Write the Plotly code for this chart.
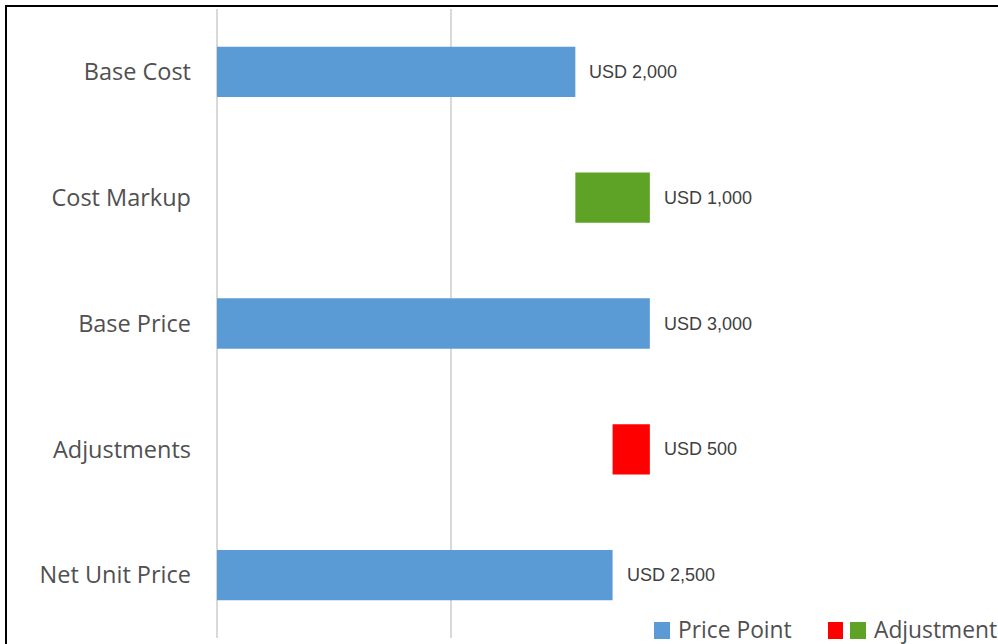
import plotly.graph_objects as go

# Price build-up, top to bottom
categories = ["Base Cost", "Cost Markup", "Base Price", "Adjustments", "Net Unit Price"]
kinds = ["point", "delta", "point", "delta", "point"]
# running price points and the signed adjustments between them
values = [2000, 1000, 3000, -500, 2500]
labels = ["USD 2,000", "USD 1,000", "USD 3,000", "USD 500", "USD 2,500"]

BLUE = "#5B9BD5"
GREEN = "#5EA226"
RED = "#FF0000"
GRID = "#D9D9D9"
TEXT = "#505050"
LABEL = "#404040"

# horizontal axis: the price bars grow from a floor left of zero
X_FLOOR = -2810
X_START = X_FLOOR - 40
X_END = X_FLOOR + 10483
GRID_VALUES = [X_FLOOR, 331]

W, H = 998, 644
M_L, M_R, M_T, M_B = 214, 0, 9, 6

fig = go.Figure()

# price points: bars from the floor up to each value
pt_y, pt_len, pt_base = [], [], []
# adjustments: floating bars starting at the previous running total
adj_y, adj_len, adj_base, adj_col = [], [], [], []
label_x = []
running = 0
for cat, kind, v in zip(categories, kinds, values):
    if kind == "point":
        pt_y.append(cat)
        pt_len.append(v - X_FLOOR)
        pt_base.append(X_FLOOR)
        running = v
        label_x.append(v)
    else:
        adj_y.append(cat)
        adj_base.append(running)
        adj_len.append(v)
        adj_col.append(GREEN if v >= 0 else RED)
        label_x.append(max(running, running + v))
        running += v

fig.add_trace(go.Bar(
    y=pt_y, x=pt_len, base=pt_base, orientation="h",
    marker=dict(color=BLUE, line=dict(width=0)),
    name="Price Point", showlegend=False, hoverinfo="skip",
))
fig.add_trace(go.Bar(
    y=adj_y, x=adj_len, base=adj_base, orientation="h",
    marker=dict(color=adj_col, line=dict(width=0)),
    name="Adjustment", showlegend=False, hoverinfo="skip",
))

# value labels to the right of each bar
for cat, lx, txt in zip(categories, label_x, labels):
    fig.add_annotation(
        x=lx, y=cat, xref="x", yref="y", text=txt, showarrow=False,
        xanchor="left", yanchor="middle", xshift=12,
        font=dict(family="Liberation Sans, Arial, sans-serif", size=18, color=LABEL),
    )

PW = W - M_L - M_R
PH = H - M_T - M_B


def px_x(p):
    return (p - M_L) / PW


def px_y(p):
    return (H - M_B - p) / PH


# legend along the bottom edge
shapes = []
for x0, x1, col in [(654, 670, BLUE), (828, 843, RED), (850, 866, GREEN)]:
    shapes.append(dict(
        type="rect", xref="paper", yref="paper",
        x0=px_x(x0), x1=px_x(x1), y0=px_y(639), y1=px_y(622),
        fillcolor=col, line=dict(width=0), layer="above",
    ))
for x0, txt in [(676, "Price Point"), (872, "Adjustment")]:
    fig.add_annotation(
        x=px_x(x0), y=px_y(629), xref="paper", yref="paper", text=txt,
        showarrow=False, xanchor="left", yanchor="middle",
        font=dict(family="Open Sans, sans-serif", size=22.8, color=TEXT),
    )

# outer frame of the chart area
shapes.append(dict(
    type="rect", xref="paper", yref="paper",
    x0=px_x(6), x1=px_x(W + 20), y0=px_y(H + 20), y1=px_y(6),
    line=dict(color="#000000", width=2), fillcolor="rgba(0,0,0,0)", layer="above",
))

fig.update_layout(
    width=W, height=H,
    margin=dict(l=M_L, r=M_R, t=M_T, b=M_B, pad=0),
    paper_bgcolor="white", plot_bgcolor="white",
    barmode="overlay", bargap=0.6,
    showlegend=False,
    shapes=shapes,
    xaxis=dict(
        range=[X_START, X_END], tickvals=GRID_VALUES, showticklabels=False,
        showgrid=True, gridcolor=GRID, gridwidth=2, zeroline=False,
        showline=False, ticks="", fixedrange=True,
    ),
    yaxis=dict(
        categoryorder="array", categoryarray=categories, autorange="reversed",
        showgrid=False, zeroline=False, showline=False, ticks="",
        ticklabelstandoff=22,
        tickfont=dict(family="Open Sans, sans-serif", size=23.5, color=TEXT),
        fixedrange=True,
    ),
)

fig.write_html("out.html", config={"displayModeBar": False})
